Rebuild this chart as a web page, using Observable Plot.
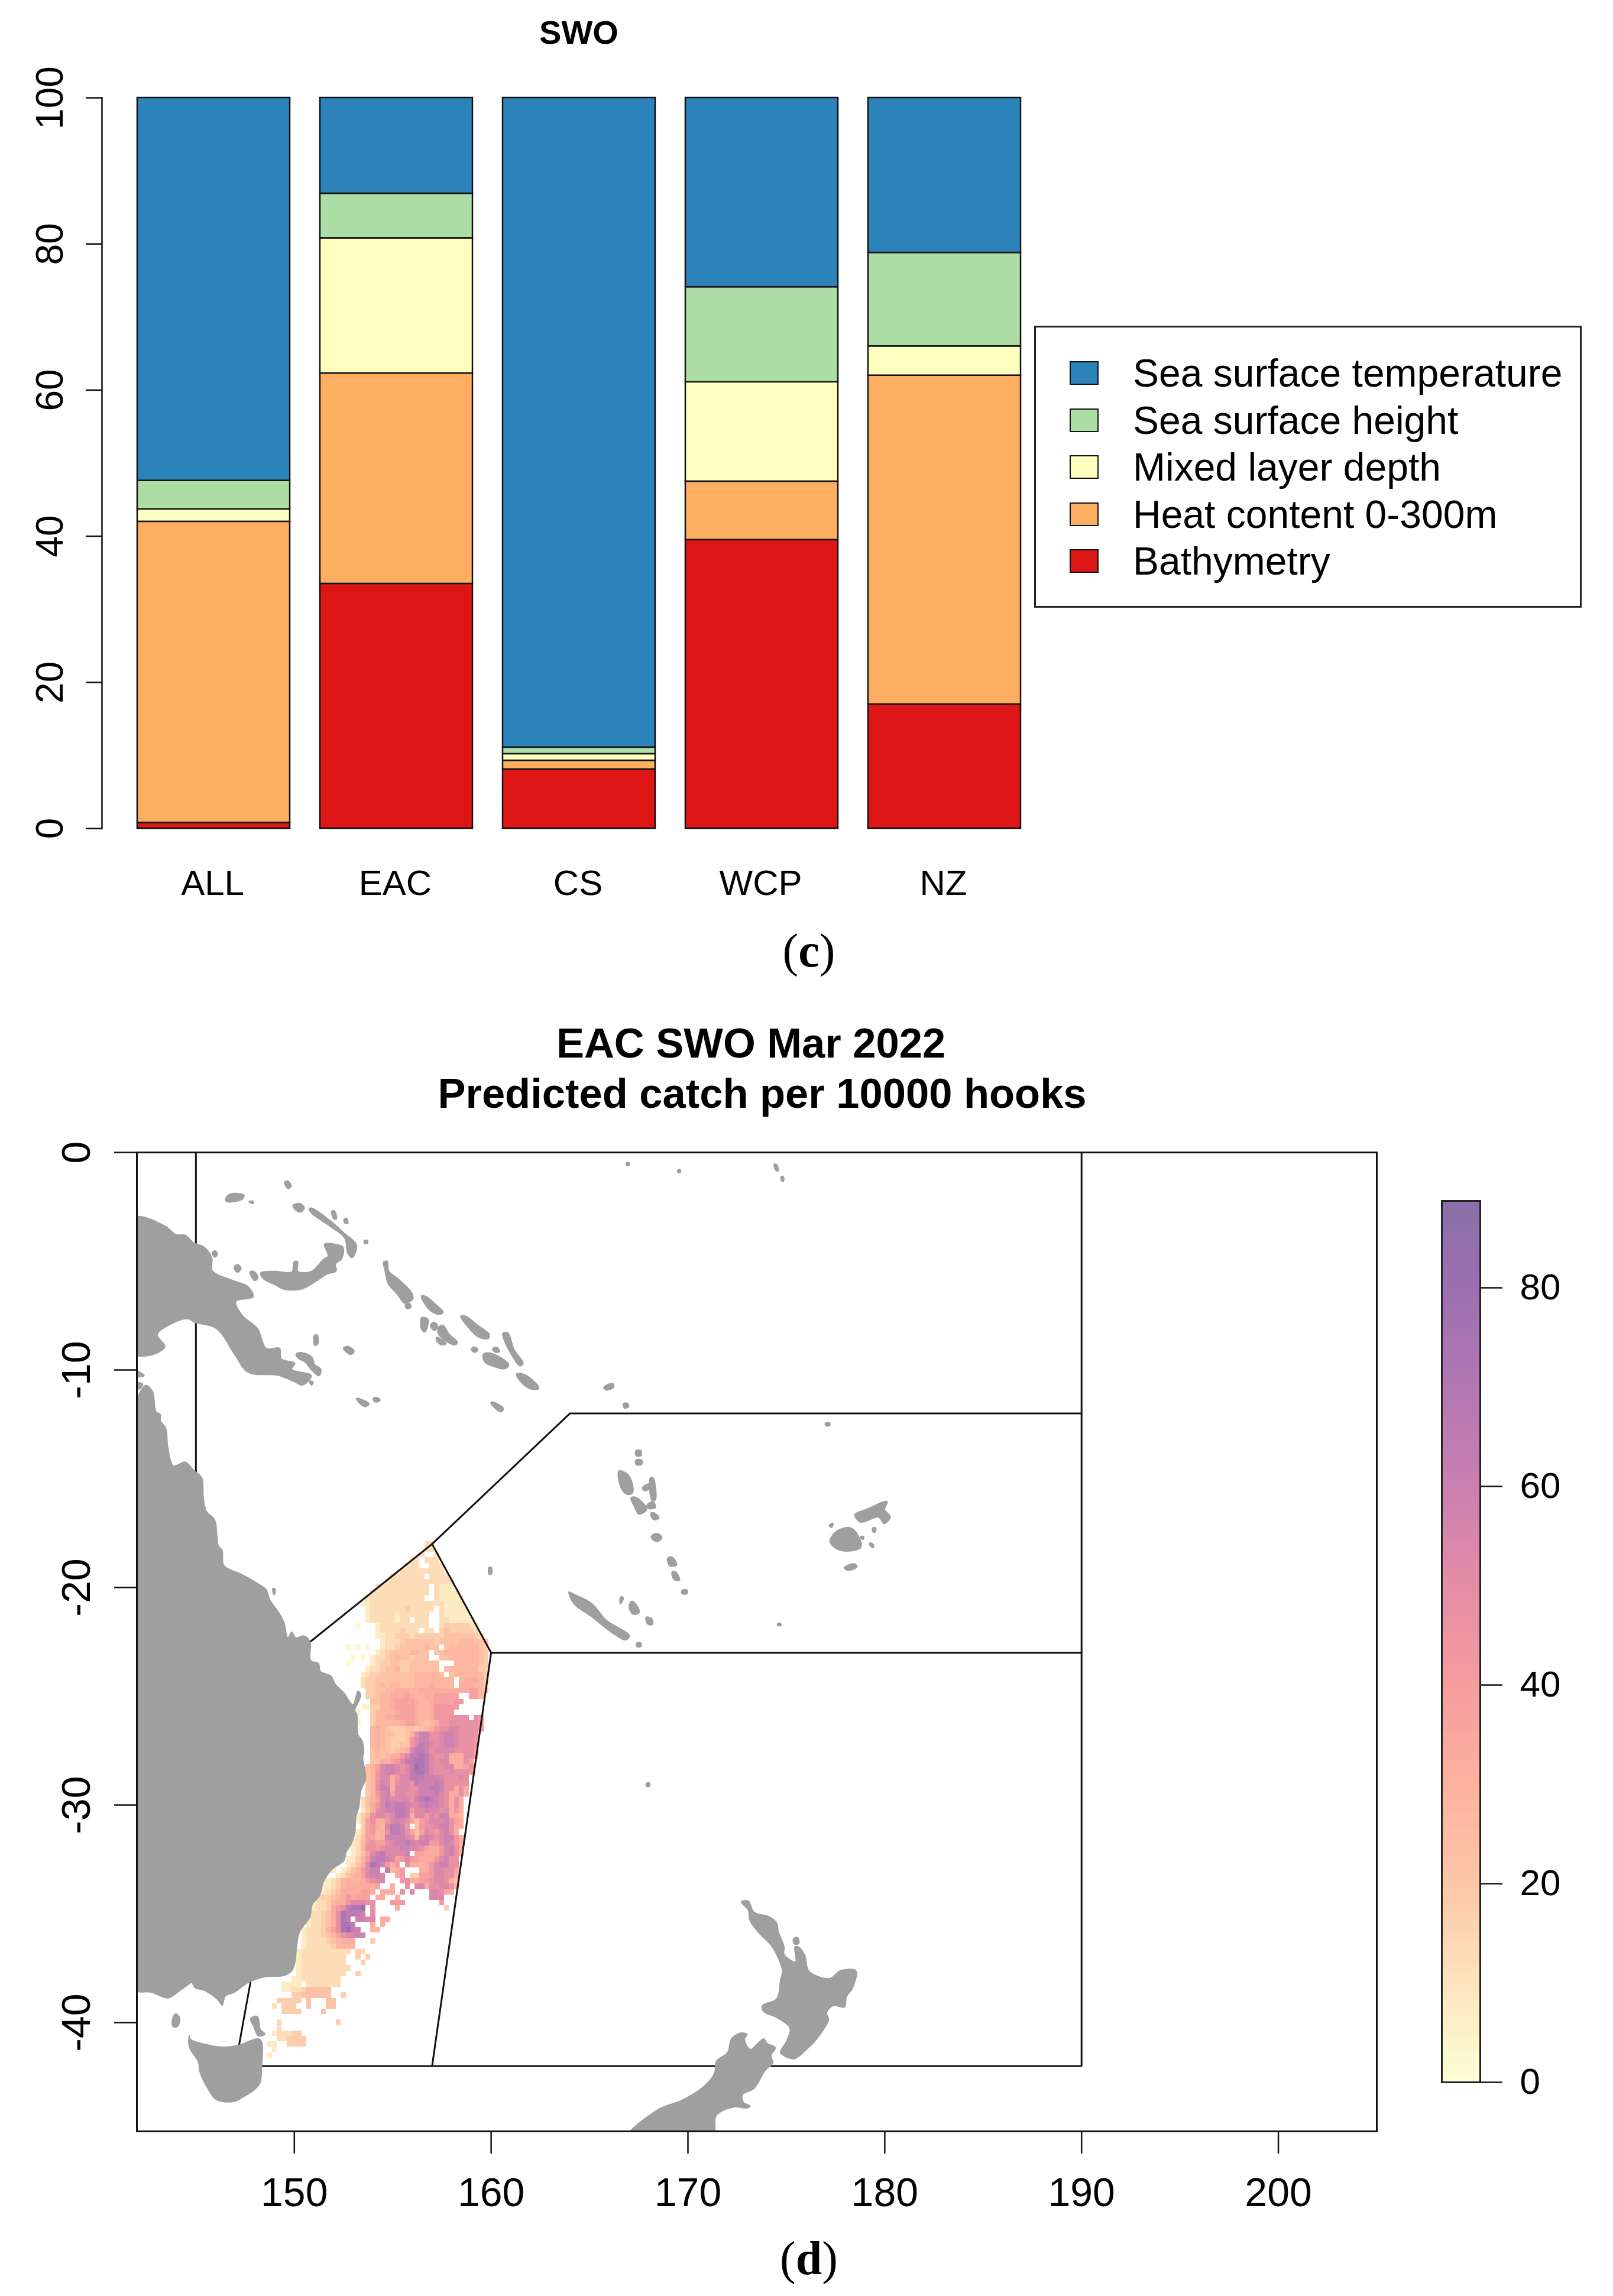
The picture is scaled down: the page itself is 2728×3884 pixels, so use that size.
<!DOCTYPE html>
<html>
<head>
<meta charset="utf-8">
<script src="https://cdn.jsdelivr.net/npm/d3@7"></script>
<script src="https://cdn.jsdelivr.net/npm/@observablehq/plot@0.6"></script>
<style>
html,body{margin:0;padding:0;background:#fff}
#page{position:relative;width:2728px;height:3884px;overflow:hidden;font-family:"Liberation Sans",Arial,sans-serif;color:#000}
.abs{position:absolute;white-space:nowrap}
.ctr{transform:translate(-50%,-50%)}
svg{display:block}
</style>
</head>
<body>
<div id="page"></div>
<script>
// ---- panel (c) data: percent contribution per region ----
const regions = ["ALL","EAC","CS","WCP","NZ"];
const drivers = ["Bathymetry","Heat content 0-300m","Mixed layer depth","Sea surface height","Sea surface temperature"];
const driverColors = ["#dd1616","#fdae61","#ffffbf","#abdda4","#2b83ba"];
const bathymetry = [0.8,33.5,8.1,39.5,17];
const heatContent = [41.2,28.8,1.2,8,45];
const mixedLayer = [1.7,18.5,0.9,13.6,4];
const surfaceHeight = [3.9,6.1,0.9,13,12.8];
const surfaceTemp = [52.4,13.1,88.9,25.9,21.2];
const legendOrder = ["Sea surface temperature","Sea surface height","Mixed layer depth","Heat content 0-300m","Bathymetry"];
const percentTicks = [0,20,40,60,80,100];

// ---- panel (d) data ----
const lonTicks = [150,160,170,180,190,200];
const latTicks = [0,-10,-20,-30,-40];
const barTicks = [0,20,40,60,80];
const colorStops = [0,10,20,30,40,50,60,70,80,88.75];
const colorRamp = ["#fcfed4","#fde3bd","#fdc5a6","#fdb19f","#f59b9e","#e48ca6","#c97fb1","#b277b3","#9b6fb2","#8a6fa8"];
const catchLevels = {a:3,b:7,c:12,d:17,e:22,f:27,g:32,h:37,i:42,j:47,k:53,l:58,m:64,n:72,o:82};
// [row (quarter degrees south of 18S), first column (quarter degrees east of 150E), level codes; "." = no prediction]
const catchRows = [
[0,27,"cc"],[1,27,"cc"],[2,26,"c..c"],[3,24,"cc.ccc"],[4,23,"ccc..ccc"],[5,22,"ccccccccc"],
[6,20,"ccccccc.cccc"],[7,19,"cccccccccccccc"],[8,17,"ccccccccccc.cbbb"],[9,16,"cccccccccccc.cbbbb"],
[10,15,"cccccccccccc..cbbbbb"],[11,14,"bbcccccccccccccccbbbb"],[12,15,"bcccccccdccccc.cbbbbb"],
[13,15,"bcccccbcccccc..cbbbbb"],[14,15,"bcccccbcc.ccc..ccbbbbb"],[15,13,"a...bcccccccccc..cdddddcb"],
[16,17,"bccccdccc.cc.dedddddc"],[17,17,"bbccdddcddddddeeeeeedc"],[18,18,"bcccdeeeeeedeeeefffeee"],
[19,11,"a.a.a..bccdeeeeefee.effffffed"],[20,17,"bcdeeeeffee.eefffffffed"],[21,12,"a.a.bccdefeedeee..eeffffffed"],
[22,11,"a....bcddeeddeeeeee...fffffed"],[23,15,"bccdeefddeeeeee.effffffdd"],[24,14,"bcddeeeeeeefffffe.effffffd"],
[25,14,"cddeeeeeeeeffffffff.fgggfd"],[26,14,"cddefeffeeefffgffff.gggffd"],[27,15,"ddeeffgggffgggggggggghhfe"],
[28,15,"ddeffggghgffgghhhhh..hhf"],[29,16,"eeffghhhhgffghhhhii"],[30,14,"aaddffghhhhgffgiiiii"],
[31,13,"a..dffffghhhgffgiiii"],[32,16,"dffgghhhhgffgiiijjjj.ji"],[33,13,"a..dfffffghhgfefgiijjjjjji"],
[34,16,"fgfedddeedefgijjkkjjjji"],[35,16,"fgfeeddegjlljjkllkjjji"],[36,16,"fgfedddeiklljjkllkjjji"],
[37,16,"fgfeddeeikmlkjkllkjjji"],[38,16,"efeedefgkmmljkkkkjjjjh"],[39,16,"efefggikmmnmkjjkgggjjh"],
[40,16,"eegghikmmnnmkjkkgggjh"],[41,15,"efhkllkjkmonmkjjkkgghj"],[42,15,"efikllkjkmnnmkjjjkjjji"],
[43,15,"efikkgikkmmmlllkjjjkj"],[44,15,"efjlkgjkkjmlllmljjjjj"],[45,15,"efjllgkkkjjllmmljjgjg"],
[46,15,"dfiklhkkjjklllmkjggjg"],[47,14,"cefhklkkkkjlmnmlkjgjg"],[48,14,"cegikmlmmlkklmllkjgjg"],
[49,14,"bdgjkllmmlikklkkjkgig"],[50,13,"bdfjkkjkmmlgkkikjllggf"],[51,13,"bdhjggiklkjhehjkkkljhg"],
[52,14,"dhigfkmmli.eijjklljgg"],[53,13,"bdhifgjmmljhehkjikljg"],[54,13,"cehhfgllllkjfklkjkllig"],
[55,12,"bcfijhhjkllmlklliiklkig"],[56,12,"bcfjjijkkkllkkjhggikljg"],[57,12,"bcehklmkkkkl.hhgggikljg"],
[58,11,"bbdfilmmlkhikihgggikljj"],[59,11,"bcegknmligi.jggfgiklljj"],[60,8,"b.bcefikll.mfgi...ggikkjjh"],
[61,9,"bcefghkllk..gi.ddhhikkjjg"],[62,6,"bbcdfgffgijkk...ijgghijkkjge"],[63,6,"bbcdfggggggh..g..j.kkgjjkkjf"],
[64,5,"bbcdegggghhg.ggg.j.k...kkjhg"],[65,4,"bcddefgighhh.gg..g......kkk"],[66,4,"bccdfggikkkjj...iii.......i"],
[67,4,"bccdgijmnno.j....g.........d"],[68,3,"bccdegjnmmml.j"],[69,3,"bccdegjnm.llkk.gg"],[70,3,"bccdegjnnm...g.g"],
[71,2,"bcccdfhjnoml..ff"],[72,2,"bcccdefhjkkll"],[73,2,"bccccdefggg...d"],[74,2,"bcccccdffff"],[75,1,"bcccccccccc.dc"],
[76,1,"bccccccccc..d.d"],[77,1,"bccccccccc...d"],[78,1,"bcccccccccc"],[79,1,"bccccccccc..d"],[80,0,"bbcccccccc"],
[81,-2,"bbbb.ccccccc"],[82,-2,"bbccdeeeee"],[83,0,"ddeeeeee..d"],[84,-3,"ddddd.e...ee"],[85,-4,"c.ddd..e...ee"],
[86,-2,"dddd....e"],[88,-3,"c...........d"],[89,-3,"c"],[90,-4,"bcccdd"],[91,-3,"ccdddd"],[92,-5,"bb..dddd"],[93,-4,"b"],[94,-5,"b"]
];
// fishery region boundaries, as flat lon,lat lists
const regionLines = [
[145,0,145,-15.5],
[190,0,190,-42,147,-42],
[190,-12,164,-12,157,-18,150.8,-22.5],
[157,-18,160,-23,157,-42],
[160,-23,190,-23],
[147.9,-37.5,147,-42]
];
// coastlines, as flat lon,lat lists
const mainland = [
[142,-11.43,142.12,-11.08,142.46,-10.7,142.81,-11,142.97,-11.91,143.2,-12.05,143.2,-12.33,143.47,-12.67,143.58,-13.57,143.86,-14.4,144.46,-14.23,144.89,-14.61,145.3,-14.96,145.38,-15.86,145.53,-16.49,145.96,-16.9,146.14,-18.08,146.34,-18.29,146.42,-18.98,147.34,-19.4,148.26,-19.88,148.57,-20.09,148.77,-20.59,149.17,-21.09,149.47,-21.58,149.67,-22.31,149.87,-22.04,150.08,-22.31,150.48,-22.22,150.8,-22.49,150.83,-23.35,151.23,-23.49,151.33,-23.85,151.88,-24.08,152.08,-24.44,152.53,-24.85,152.98,-25.39,153.23,-24.75,153.38,-24.94,153.08,-25.66,153.18,-25.84,153.23,-26.75,153.43,-27.02,153.53,-27.47,153.48,-27.84,153.63,-28.74,153.38,-29.37,153.28,-30.1,153.13,-30.55,153.08,-31.28,152.88,-31.82,152.63,-32.18,152.53,-32.55,151.93,-32.95,151.48,-33.54,151.28,-34.18,150.93,-34.54,150.78,-35.17,150.28,-35.81,150.12,-36.53,150.03,-37.26,149.87,-37.62,149.42,-37.85,148.57,-37.89,147.65,-38.17,146.96,-38.61,146.5,-38.78,146.34,-39.21,146.11,-38.95,145.42,-38.52,144.95,-38.4,144.78,-38.15,144.61,-38.26,144.2,-38.52,143.58,-38.87,142.74,-38.61,141.8,-38.43,141.8,-11.43],
[141.8,-3.01,143.43,-3.38,143.97,-3.77,144.46,-3.8,144.89,-4.15,145.42,-4.35,145.81,-4.84,145.84,-5.44,146.88,-5.88,147.65,-6.16,147.91,-6.64,147.03,-6.85,147.34,-7.47,148.14,-8.1,148.57,-9,149.26,-9,149.34,-9.48,150.03,-9.69,149.87,-9.97,150.87,-10.25,150.41,-10.7,149.95,-10.52,149.18,-10.25,147.65,-10.11,146.96,-9.28,146.04,-8.1,144.96,-7.82,144.58,-7.65,143.97,-7.79,143.04,-8.37,143.43,-8.93,142.58,-9.35,141.8,-9.21],
[144.66,-40.6,144.73,-40.77,145.65,-41.03,146.42,-41.12,147.19,-41.03,148.26,-40.77,148.34,-42.07,148.26,-42.77,147.95,-43.11,147.49,-43.37,146.96,-43.63,146.04,-43.55,145.65,-43.11,145.19,-42.25,145.12,-41.81,144.66,-41.12],
[172.7,-34.44,173.07,-34.41,173.36,-34.92,174.12,-35.13,174.51,-35.41,174.6,-35.82,174.89,-36.52,174.89,-36.86,175.47,-37.21,175.43,-36.52,175.62,-36.52,175.95,-36.93,176.14,-37.62,177.19,-37.97,177.77,-37.6,178.54,-37.62,178.34,-38.46,178.06,-38.8,177.96,-39.29,177.38,-39.22,177.04,-39.57,177.15,-39.84,176.62,-40.67,176.04,-41.23,175.37,-41.67,174.7,-41.37,174.99,-40.88,175.18,-40.26,174.51,-39.77,173.84,-39.5,173.78,-39.22,174.51,-38.9,174.7,-38.04,174.8,-37.62,174.6,-37.07,174.22,-36.45,173.55,-35.82,173.13,-35.27,173.07,-34.85],
[166.9,-45.3,168.47,-44,169.71,-43.56,170.77,-42.96,171.34,-42.34,171.44,-41.78,172.01,-41.37,172.21,-40.74,172.69,-40.47,173.01,-40.54,172.88,-40.74,173.17,-41.23,173.84,-40.74,174.03,-40.95,174.45,-41.16,174.22,-41.51,174.32,-41.85,173.93,-42.2,173.36,-43.03,172.78,-43.31,172.82,-43.66,173.17,-43.84,173.01,-43.93,172.3,-43.89,171.44,-44.28,171.25,-45.3],
[148.29,-5.53,149.03,-5.46,149.87,-5.49,149.98,-5.02,150.18,-5.02,150.18,-5.46,150.87,-5.46,151.48,-4.91,151.71,-4.77,151.53,-4.22,152.1,-4.22,152.48,-4.35,152.4,-4.91,152.1,-5.12,152.13,-5.46,151.64,-5.6,151.18,-5.88,150.41,-6.27,149.49,-6.3,149.03,-6.09,148.42,-5.81],
[150.75,-2.59,150.87,-2.55,151.79,-3.11,152.48,-3.66,153.17,-4.28,152.94,-4.84,152.71,-4.63,152.56,-3.94,151.79,-3.38,150.87,-2.8],
[163.95,-20.2,164.2,-20.3,165.11,-20.73,165.88,-21.52,167.03,-22.21,166.84,-22.42,166.07,-22.04,165.11,-21.35,164.2,-20.75]
];
const smallIslands = [
[142,-10.07,142.35,-10.25,142.05,-10.29],[142.05,-10.6,142.28,-10.66,142.12,-10.87],
[143.81,-39.91,143.97,-39.61,144.17,-39.82,144.04,-40.17,143.86,-40.17],[147.8,-39.82,148.11,-39.73,148.26,-40.34,148.49,-40.52,148.18,-40.6,147.95,-40.17],
[145.84,-4.63,145.96,-4.53,146.08,-4.67,145.96,-4.8],[146.96,-5.3,147.11,-5.16,147.28,-5.33,147.11,-5.49],[147.76,-5.49,147.95,-5.49,148.14,-5.74,147.99,-5.88],
[146.53,-2.14,146.73,-1.93,147.42,-1.97,147.34,-2.14,146.57,-2.25],[149.95,-2.44,150.26,-2.36,150.49,-2.55,150.33,-2.72,150.1,-2.66],[149.52,-1.37,149.67,-1.33,149.83,-1.55,149.67,-1.64],
[147.72,-2.27,147.88,-2.25,147.91,-2.34],[151.91,-2.72,152.02,-2.69,152.13,-3.04,152.02,-3.04],[152.53,-3.08,152.65,-3.04,152.71,-3.25,152.59,-3.25],[153.56,-4.08,153.71,-4.05,153.71,-4.16,153.57,-4.16],
[154.55,-5.05,154.71,-5.02,154.78,-5.46,155.24,-5.81,155.93,-6.43,156.01,-6.71,155.63,-6.92,155.24,-6.5,154.78,-6.02,154.63,-5.46],[155.66,-6.99,155.86,-6.96,155.9,-7.13,155.7,-7.15],
[156.47,-6.6,156.7,-6.64,157.16,-6.99,157.55,-7.34,157.32,-7.43,156.85,-7.2],[158.47,-7.54,158.7,-7.54,159.31,-7.96,159.89,-8.37,159.85,-8.54,159.39,-8.49,158.85,-8.03],
[156.47,-7.61,156.78,-7.68,156.62,-8.24,156.47,-8.1],[156.93,-7.96,157.09,-7.82,157.27,-7.99,157.12,-8.17],[157.35,-8.03,157.55,-7.96,157.85,-8.37,158.27,-8.72,158.16,-8.83,157.7,-8.65,157.32,-8.31],[157.24,-8.51,157.7,-8.79,157.47,-8.83,157.24,-8.65],
[160.61,-8.31,160.84,-8.31,161.15,-9.07,161.61,-9.69,161.46,-9.8,161,-9.21,160.69,-8.65],[159.62,-9.28,159.92,-9.23,160.54,-9.48,160.88,-9.76,160.69,-9.93,160.15,-9.83,159.69,-9.62],
[159,-9.04,159.16,-8.96,159.31,-9.07,159.16,-9.18],[160.08,-9.04,160.26,-8.96,160.42,-9.14,160.26,-9.18],[161.3,-10.2,161.53,-10.18,162.07,-10.45,162.41,-10.84,162.07,-10.87,161.61,-10.62],[160,-11.5,160.15,-11.5,160.61,-11.77,160.5,-11.91,160.08,-11.63],
[150.1,-9.28,150.33,-9.21,150.87,-9.41,151.02,-9.76,151.33,-9.97,151.25,-10.25,150.87,-9.97,150.56,-9.62,150.26,-9.48],[151.02,-8.44,151.15,-8.4,151.18,-8.79,151.05,-8.86],[152.51,-9,152.74,-8.93,153.02,-9.14,152.87,-9.28],[150.79,-10.52,150.95,-10.57,150.87,-10.68],
[153.17,-11.31,153.4,-11.36,153.79,-11.56,153.56,-11.67],[154.02,-11.31,154.25,-11.29,154.34,-11.4,154.09,-11.45],[148.92,-20.05,149.02,-20.09,148.97,-20.32],[159.9,-19.09,160,-19.09,160,-19.37,159.9,-19.37],
[166.59,-20.44,166.7,-20.48,166.57,-20.74],[167.12,-20.65,167.32,-20.74,167.51,-21.14,167.22,-21.21,167.03,-20.92],[167.89,-21.38,168.14,-21.43,168.18,-21.69,167.95,-21.66],[167.41,-22.56,167.6,-22.56,167.6,-22.7,167.41,-22.7],
[166.49,-14.67,166.68,-14.67,167.03,-14.93,167.18,-15.63,166.93,-15.71,166.64,-15.45],[167.12,-15.88,167.37,-15.88,167.89,-16.4,167.51,-16.61,167.32,-16.32],[167.7,-15.42,168.08,-15.24,168.08,-15.42,167.8,-15.54],[168.1,-14.97,168.22,-14.97,168.33,-15.97,168.18,-15.97],
[167.93,-16.23,168.22,-16.06,168.33,-16.32,167.99,-16.35],[168.12,-16.61,168.27,-16.58,168.52,-16.8,168.27,-16.87],[168.14,-17.67,168.41,-17.53,168.66,-17.7,168.41,-17.88],[168.98,-18.66,169.18,-18.61,169.41,-18.95,169.1,-19],[169.21,-19.3,169.37,-19.3,169.56,-19.65,169.29,-19.61],[169.71,-20.13,169.94,-20.13,169.94,-20.27,169.71,-20.27],
[167.37,-13.72,167.6,-13.72,167.6,-13.93,167.37,-13.93],[167.37,-14.15,167.64,-14.15,167.64,-14.34,167.37,-14.34],
[177.23,-17.88,177.58,-17.41,178.25,-17.27,178.63,-17.62,178.77,-18.14,178.15,-18.31,177.58,-18.22],[178.5,-16.66,179.11,-16.41,180.11,-16.06,179.97,-16.41,180.26,-16.75,179.97,-17.05,179.69,-16.75,178.77,-16.98],
[177.19,-17.15,177.35,-17.05,177.31,-17.22],[178.77,-17.67,178.92,-17.67,178.88,-17.78],[179.4,-17.27,179.53,-17.27,179.49,-17.45,179.4,-17.41],[179.26,-17.96,179.42,-18.05,179.4,-18.16,179.26,-18.05],[177.96,-19.09,178.44,-18.92,178.57,-19.04,178.15,-19.2],
[165.74,-10.81,166.16,-10.63,166.22,-10.77,165.88,-10.91],[166.74,-11.55,166.93,-11.55,166.97,-11.69,166.78,-11.73],[177,-12.45,177.19,-12.45,177.19,-12.54,177,-12.54],[174.57,-21.66,174.7,-21.66,174.7,-21.74,174.57,-21.74],
[166.89,-0.48,167.01,-0.48,167.01,-0.58,166.89,-0.58],[169.5,-0.81,169.6,-0.81,169.6,-0.91,169.5,-0.91],[174.39,-0.55,174.51,-0.58,174.58,-0.84,174.47,-0.81],[174.74,-1.12,174.83,-1.12,174.85,-1.31,174.78,-1.31],
[167.9,-29,168.04,-29,168.04,-29.12,167.9,-29.12],[175.37,-36.17,175.56,-36.1,175.62,-36.35,175.43,-36.38]
];

// ---- helpers turning the lists into tables ----
const toPoints = (lists) => lists.flatMap((flat, id) => d3.range(0, flat.length, 2).map(i => ({id, lon: flat[i], lat: flat[i + 1]})));
const barData = regions.flatMap((region, r) => [bathymetry, heatContent, mixedLayer, surfaceHeight, surfaceTemp]
  .map((series, s) => ({region, driver: drivers[s], value: series[r]})));
const catchCells = catchRows.flatMap(([row, col, codes]) => [...codes].flatMap((c, k) => c === "." ? [] :
  [{lon: 150 + (col + k) / 4, lat: -18 - row / 4, value: catchLevels[c]}]));
const colorOptions = {type: "linear", domain: colorStops, range: colorRamp};
const sans = {fontFamily: "'Liberation Sans', Arial, sans-serif", background: "transparent", overflow: "visible"};
const page = document.getElementById("page");

function place(node, left, top) {
  node.style.position = "absolute"; node.style.left = left + "px"; node.style.top = top + "px";
  page.appendChild(node);
}
function label(html, x, y, css) {
  const d = document.createElement("div");
  d.className = "abs ctr"; d.innerHTML = html;
  d.style.left = x + "px"; d.style.top = y + "px"; d.style.cssText += css;
  page.appendChild(d);
}

// ---- panel (c) ----
place(Plot.plot({
  width: 1740, height: 1560, marginTop: 165, marginBottom: 159, marginLeft: 172, marginRight: 0,
  style: {...sans, fontSize: "60px"},
  x: {domain: regions, range: [231, 1726], paddingInner: 0.166, paddingOuter: 0, label: null},
  y: {domain: [0, 100], label: null},
  color: {domain: drivers, range: driverColors},
  marks: [
    Plot.barY(barData, {x: "region", y: "value", fill: "driver", stroke: "#111", strokeWidth: 2.5}),
    Plot.frame({anchor: "left", stroke: "#111", strokeWidth: 2.5}),
    Plot.axisY({ticks: percentTicks, tickSize: 27, tickPadding: 40, tickRotate: -90, stroke: "#111", strokeWidth: 2.5, fontSize: 64, label: null}),
    Plot.axisX({tickSize: 0, tickPadding: 70, fontSize: 60, dx: -2, label: null})
  ]
}), 0, 0);

label("SWO", 979, 54, "font:bold 56px 'Liberation Sans',Arial,sans-serif");
label("(<b>c</b>)", 1368, 1608, "font:80px 'Liberation Serif','Times New Roman',serif");

// legend for panel (c)
const legend = document.createElement("div");
legend.className = "abs";
legend.style.cssText = "left:1749px;top:551px;width:926px;height:477px;box-sizing:border-box;border:3px solid #222;background:#fff";
page.appendChild(legend);
legendOrder.forEach((name, i) => {
  const cy = 631 + i * 79.5;
  const sw = document.createElement("div");
  sw.className = "abs";
  sw.style.cssText = `left:1809px;top:${cy - 20}px;width:49px;height:40px;box-sizing:border-box;border:2.5px solid #111;background:${driverColors[drivers.indexOf(name)]}`;
  page.appendChild(sw);
  const t = document.createElement("div");
  t.className = "abs"; t.textContent = name;
  t.style.cssText = `left:1916px;top:${cy - 40}px;font:66px/80px 'Liberation Sans',Arial,sans-serif`;
  page.appendChild(t);
});

// ---- panel (d) map ----
place(Plot.plot({
  width: 2400, height: 1880, marginTop: 49, marginBottom: 175, marginLeft: 231, marginRight: 72,
  style: {...sans, fontSize: "68px"},
  x: {domain: [142, 205], label: null},
  y: {domain: [-45, 0], label: null},
  color: colorOptions,
  marks: [
    Plot.rect(catchCells, {
      x1: d => d.lon - 0.125, x2: d => d.lon + 0.125, y1: d => d.lat - 0.125, y2: d => d.lat + 0.125,
      fill: "value", shapeRendering: "crispEdges"
    }),
    Plot.line(toPoints(regionLines), {x: "lon", y: "lat", z: "id", stroke: "#111", strokeWidth: 3, strokeLinejoin: "miter"}),
    Plot.line(toPoints(mainland), {x: "lon", y: "lat", z: "id", curve: "catmull-rom-closed", fill: "#9f9f9f", stroke: "#9f9f9f", strokeWidth: 1.5, clip: true}),
    Plot.line(toPoints(smallIslands), {x: "lon", y: "lat", z: "id", curve: "catmull-rom-closed", fill: "#9f9f9f", stroke: "#9f9f9f", strokeWidth: 3, clip: true}),
    Plot.frame({stroke: "#111", strokeWidth: 3}),
    Plot.axisX({ticks: lonTicks, tickSize: 38, tickPadding: 40, stroke: "#111", strokeWidth: 2.5, fontSize: 68, label: null}),
    Plot.axisY({ticks: latTicks, tickSize: 38, tickPadding: 42, tickRotate: -90, tickFormat: d => String(d), stroke: "#111", strokeWidth: 2.5, fontSize: 68, label: null})
  ]
}), 0, 1900);

// colour bar of panel (d)
const colorbarLevels = d3.range(0, 88.75, 0.75);
place(Plot.plot({
  width: 300, height: 1560, marginTop: 31, marginBottom: 38, marginLeft: 38, marginRight: 197,
  style: {...sans, fontSize: "60px"},
  y: {domain: [0, 88.75], label: null},
  color: colorOptions,
  marks: [
    Plot.rect(colorbarLevels, {y1: d => d, y2: d => Math.min(d + 0.75, 88.75), fill: d => d, shapeRendering: "crispEdges"}),
    Plot.frame({stroke: "#222", strokeWidth: 3}),
    Plot.axisY({anchor: "right", ticks: barTicks, tickSize: 37, tickPadding: 30, stroke: "#111", strokeWidth: 2.5, fontSize: 62, label: null})
  ]
}), 2400, 2000);

label("EAC SWO Mar 2022", 1270, 1764, "font:bold 70.5px 'Liberation Sans',Arial,sans-serif");
label("Predicted catch per 10000 hooks", 1289, 1849, "font:bold 70.5px 'Liberation Sans',Arial,sans-serif");
label("(<b>d</b>)", 1368, 3820, "font:80px 'Liberation Serif','Times New Roman',serif");
</script>
</body>
</html>
